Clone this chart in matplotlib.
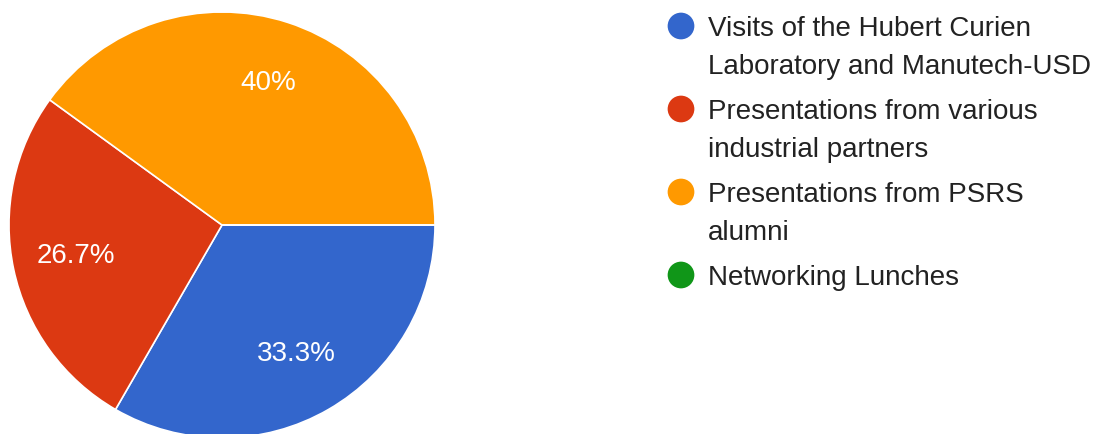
import matplotlib
matplotlib.use('Agg')
import matplotlib.pyplot as plt

plt.rcParams['font.family'] = ['Liberation Sans', 'DejaVu Sans']

labels = ['Visits of the Hubert Curien\nLaboratory and Manutech-USD',
          'Presentations from various\nindustrial partners',
          'Presentations from PSRS\nalumni',
          'Networking Lunches']
counts = [5, 4, 6, 0]
colors = ['#3366CC', '#DC3912', '#FF9900', '#109618']

W, H = 1110, 434
fig = plt.figure(figsize=(W / 100, H / 100), dpi=100)

# pie axes: centre (222, 225) px from top-left, radius 213 px
cx, cy, r = 222, 225, 213
ax = fig.add_axes([(cx - r) / W, (H - cy - r) / H, 2 * r / W, 2 * r / H])
wedges, texts, autotexts = ax.pie(
    counts, colors=colors, startangle=0, counterclock=False,
    autopct=lambda p: ('%.1f%%' % p).replace('.0%', '%') if p > 0 else '',
    pctdistance=0.7, radius=1,
    wedgeprops=dict(edgecolor='white', linewidth=1.2),
    textprops=dict(color='white', fontsize=20))
ax.set_xlim(-1, 1)
ax.set_ylim(-1, 1)
ax.set_aspect('equal')
ax.axis('off')

# legend, drawn in pixel coordinates
lax = fig.add_axes([0, 0, 1, 1])
lax.set_xlim(0, W)
lax.set_ylim(H, 0)
lax.axis('off')
y = 26
for lab, col in zip(labels, colors):
    lax.scatter([681], [y], s=370, color=col, edgecolors='none')
    for i, line in enumerate(lab.split('\n')):
        lax.text(708, y + 10 + 38 * i, line, fontsize=20, color='#222222',
                 va='baseline', ha='left')
    y += 38 * (lab.count('\n') + 1) + 7

fig.savefig('out.png', dpi=100)
